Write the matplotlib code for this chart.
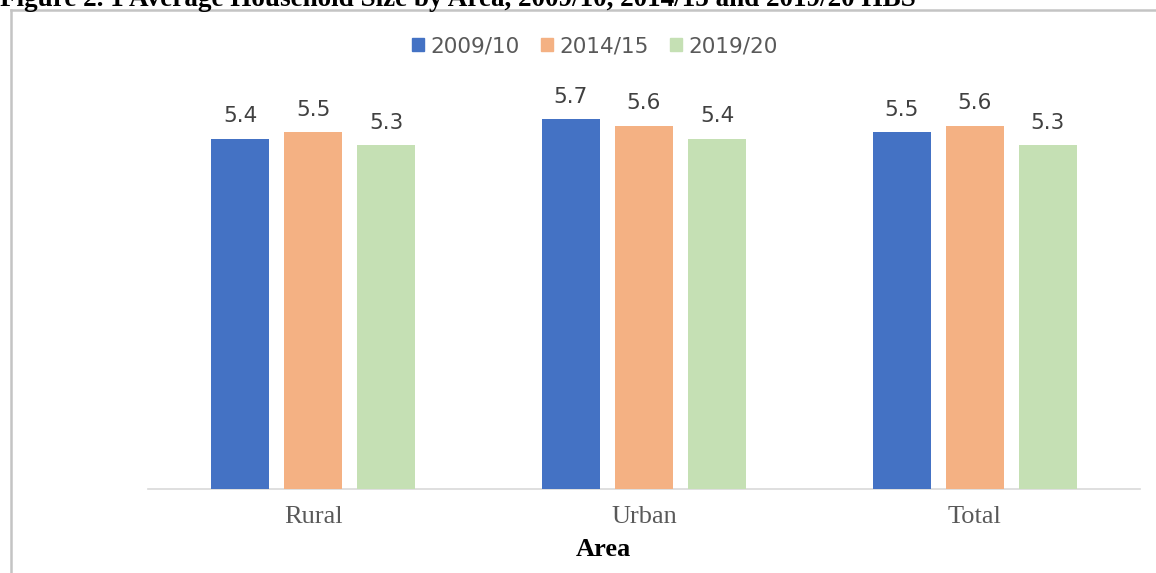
import matplotlib
matplotlib.use("Agg")
import matplotlib.pyplot as plt
from matplotlib.lines import Line2D
import numpy as np

# Average household size by area and survey round
areas = ["Rural", "Urban", "Total"]
rounds = ["2009/10", "2014/15", "2019/20"]
size_2009 = [5.4, 5.7, 5.5]
size_2014 = [5.5, 5.6, 5.6]
size_2019 = [5.3, 5.4, 5.3]
series = [size_2009, size_2014, size_2019]
colors = ["#4472C4", "#F4B183", "#C5E0B4"]

W, H = 1156, 573
fig = plt.figure(figsize=(W / 100, H / 100), dpi=100)
fig.patch.set_facecolor("white")

ax = fig.add_axes([148 / W, 1 - 489 / H, (1140 - 148) / W, (489 - 100) / H])

x = np.arange(len(areas))
bar_w = 0.175
step = 0.221
for i, (vals, col, lab) in enumerate(zip(series, colors, rounds)):
    pos = x + (i - 1) * step
    bars = ax.bar(pos, vals, width=bar_w, color=col, label=lab, zorder=3)
    for b, v in zip(bars, vals):
        ax.annotate(f"{v:.1f}", (b.get_x() + b.get_width() / 2, v),
                    xytext=(0, 9), textcoords="offset points",
                    ha="center", va="bottom", fontsize=15.5,
                    color="#404040", family="DejaVu Sans")

ax.set_xlim(-0.5, 2.5)
ax.set_ylim(0, 6)
ax.set_yticks([])
for s in ["left", "right", "top"]:
    ax.spines[s].set_visible(False)
ax.spines["bottom"].set_color("#D9D9D9")
ax.spines["bottom"].set_linewidth(1.2)
ax.set_xticks(x)
ax.set_xticklabels(areas, family="Liberation Serif", fontsize=19, color="#595959")
ax.tick_params(axis="x", length=0, pad=12)
ax.set_facecolor("none")

fig.text(603 / W, 1 - 549 / H, "Area", ha="center", va="center",
         family="Liberation Serif", fontweight="bold", fontsize=19, color="black")

handles = [plt.Rectangle((0, 0), 1, 1, color=c) for c in colors]
fig.legend(handles, rounds, loc="center", bbox_to_anchor=(595 / W, 1 - 46 / H),
           ncol=3, frameon=False, handlelength=0.55, handleheight=0.55,
           handletextpad=0.3, columnspacing=1.0,
           prop={"family": "DejaVu Sans", "size": 15.5})
for t in fig.legends[0].get_texts():
    t.set_color("#595959")

# Title, partly above the page edge
fig.text(0, 1 - 6 / H, "Figure 2. 1 Average Household Size by Area, 2009/10, 2014/15 and 2019/20 HBS",
         ha="left", va="baseline", family="Liberation Serif", fontweight="bold",
         fontsize=19.5, color="black")

# Frame around the chart (top and left edges visible)
fig.add_artist(Line2D([11 / W, 1], [1 - 10 / H, 1 - 10 / H], transform=fig.transFigure,
                      color="#C4C4C4", linewidth=1.8))
fig.add_artist(Line2D([11 / W, 11 / W], [0, 1 - 10 / H], transform=fig.transFigure,
                      color="#C4C4C4", linewidth=1.8))

fig.savefig("out.png", dpi=100)
